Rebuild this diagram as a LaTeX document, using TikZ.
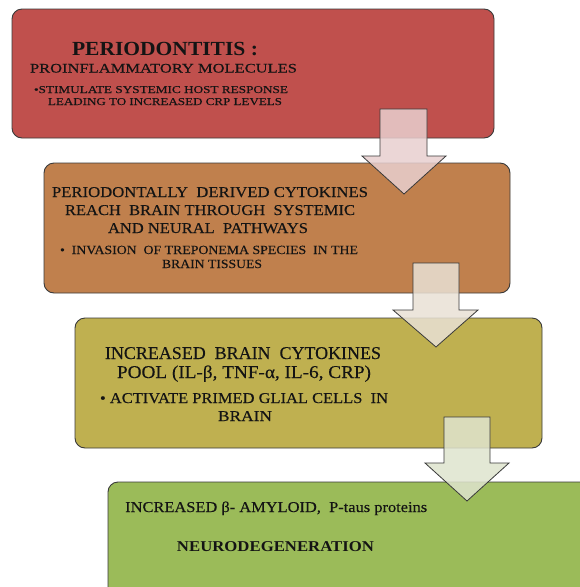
\documentclass[tikz,border=0pt]{standalone}
\usepackage{fontspec}
\usepackage{graphicx}
\setmainfont{Liberation Serif}
\newfontfamily\tnr{Liberation Serif}[FakeBold=0.25]
\newfontfamily\tnrb{Liberation Serif Bold}
\newcommand\fw[3]{\resizebox{#1pt}{\height}{\fontsize{#2}{#2}\selectfont #3}}
\definecolor{cbox1}{HTML}{C0504D}
\definecolor{cbox2}{HTML}{C0804D}
\definecolor{cbox3}{HTML}{BFB050}
\definecolor{cbox4}{HTML}{9BBB59}
\definecolor{carr1}{HTML}{E8CFCF}
\definecolor{carr2}{HTML}{E9E1D5}
\definecolor{carr3}{HTML}{DFE4CE}
\definecolor{edge}{HTML}{3A3A3A}
\definecolor{ink}{HTML}{141414}
\begin{document}
\begin{tikzpicture}[x=1pt,y=-1pt,
  boxstyle/.style={draw=edge,line width=0.9pt,rounded corners=10pt},
  arrowstyle/.style={draw=edge,line width=0.8pt,fill opacity=0.85,line join=miter},
  txt/.style={inner sep=0pt,anchor=base,text=ink}]
\useasboundingbox (0,0) rectangle (580,587);
\fill[white] (0,0) rectangle (580,587);
% boxes
\path[boxstyle,fill=cbox1] (12,9) rectangle (494,138);
\path[boxstyle,fill=cbox2] (44,163) rectangle (510,293);
\path[boxstyle,fill=cbox3] (75,318) rectangle (542,448);
\path[boxstyle,fill=cbox4] (108,482) rectangle (600,600);
% arrows
\path[arrowstyle,fill=carr1] (380,109) -- (427,109) -- (427,156) -- (446,156) -- (404,194) -- (362,156) -- (380,156) -- cycle;
\path[arrowstyle,fill=carr2] (413,263) -- (459,263) -- (459,310) -- (478,310) -- (436,347) -- (393,310) -- (413,310) -- cycle;
\path[arrowstyle,fill=carr3] (444,417) -- (490,417) -- (490,463) -- (509,463) -- (467,501) -- (425,463) -- (444,463) -- cycle;
% box 1 text
\node[txt] (t11) at (165,55.5) {\fw{186}{20}{\tnrb PERIODONTITIS :}};
\node[txt] (t12) at (163.5,72.5) {\fw{267}{13}{\tnr PROINFLAMMATORY MOLECULES}};
\node[txt] (t13) at (161,93) {\fw{254}{10.5}{\tnr \textbullet STIMULATE SYSTEMIC HOST RESPONSE}};
\node[txt] (t14) at (165,105) {\fw{234}{10.5}{\tnr LEADING TO INCREASED CRP LEVELS}};
% box 2 text
\node[txt] (t21) at (210,197) {\fw{316}{15}{\tnr PERIODONTALLY\ \ DERIVED CYTOKINES}};
\node[txt] (t22) at (210,215) {\fw{290}{15}{\tnr REACH\ \ BRAIN THROUGH\ \ SYSTEMIC}};
\node[txt] (t23) at (208,233) {\fw{200}{15}{\tnr AND NEURAL\ \ PATHWAYS}};
\node[txt] (t24) at (209,254) {\fw{298}{12.5}{\tnr \textbullet\ \ INVASION\ \ OF TREPONEMA SPECIES\ \ IN THE}};
\node[txt] (t25) at (212,268) {\fw{100}{12.5}{\tnr BRAIN TISSUES}};
% box 3 text
\node[txt] (t31) at (243,359) {\fw{276}{18}{\tnr INCREASED\ \ BRAIN\ \ CYTOKINES}};
\node[txt] (t32) at (244,378) {\fw{254}{18}{\tnr POOL (IL-β, TNF-α, IL-6, CRP)}};
\node[txt] (t33) at (244,403) {\fw{288}{15}{\tnr \textbullet\ ACTIVATE PRIMED GLIAL CELLS\ \ IN}};
\node[txt] (t34) at (245,421) {\fw{54}{15}{\tnr BRAIN}};
% box 4 text
\node[txt,anchor=base west] (t41) at (125,512) {\fw{302}{15}{\tnr INCREASED β- AMYLOID,\ \ P-taus proteins}};
\node[txt] (t42) at (275.5,551) {\fw{197}{15}{\tnrb NEURODEGENERATION}};
\end{tikzpicture}
\end{document}
